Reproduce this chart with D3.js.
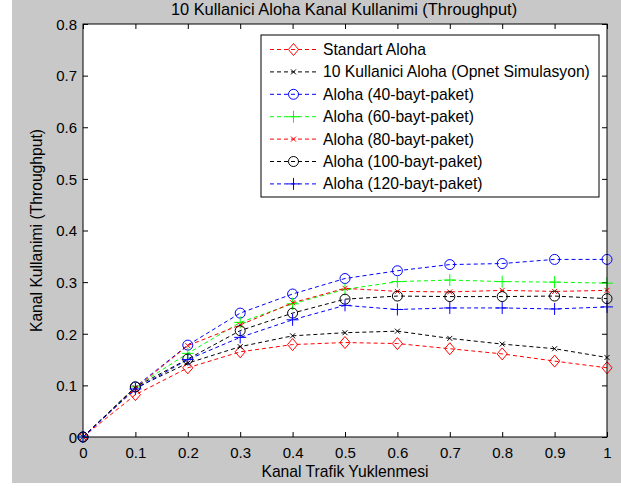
<!DOCTYPE html>
<html><head><meta charset="utf-8">
<script src="https://cdn.jsdelivr.net/npm/d3@7"></script>
<style>
html,body{margin:0;padding:0;background:#fff;}
svg{display:block;}
text{font-family:Arial,"Liberation Sans",sans-serif;fill:#000;}
</style></head>
<body>
<svg id="chart" width="621" height="488"></svg>
<script>
const xValues = [0, 0.1, 0.2, 0.3, 0.4, 0.5, 0.6, 0.7, 0.8, 0.9, 1.0];
const standartAloha = [0, 0.082, 0.134, 0.165, 0.179, 0.183, 0.181, 0.171, 0.161, 0.147, 0.134];
const opnetSim      = [0, 0.095, 0.143, 0.175, 0.196, 0.202, 0.205, 0.191, 0.180, 0.171, 0.154];
const aloha40       = [0, 0.097, 0.178, 0.240, 0.277, 0.307, 0.322, 0.334, 0.336, 0.344, 0.344];
const aloha60       = [0, 0.097, 0.162, 0.222, 0.258, 0.286, 0.301, 0.304, 0.301, 0.300, 0.298];
const aloha80       = [0, 0.095, 0.177, 0.217, 0.260, 0.288, 0.282, 0.281, 0.284, 0.282, 0.284];
const aloha100      = [0, 0.097, 0.151, 0.206, 0.240, 0.267, 0.273, 0.272, 0.272, 0.273, 0.268];
const aloha120      = [0, 0.093, 0.150, 0.193, 0.227, 0.255, 0.247, 0.250, 0.250, 0.248, 0.252];
const seriesNames = ["Standart Aloha", "10 Kullanici Aloha (Opnet Simulasyon)", "Aloha (40-bayt-paket)", "Aloha (60-bayt-paket)", "Aloha (80-bayt-paket)", "Aloha (100-bayt-paket)", "Aloha (120-bayt-paket)"];
const seriesColors = ["#ff0000", "#000000", "#0000ff", "#00ff00", "#ff0000", "#000000", "#0000ff"];
const seriesMarkers = ["diamond", "xsmall", "circle", "plus", "xsmall", "circle", "plus"];
const xTicks = [0, 0.1, 0.2, 0.3, 0.4, 0.5, 0.6, 0.7, 0.8, 0.9, 1];
const yTicks = [0, 0.1, 0.2, 0.3, 0.4, 0.5, 0.6, 0.7, 0.8];
const titleText = "10 Kullanici Aloha Kanal Kullanimi (Throughput)";
const xLabelText = "Kanal Trafik Yuklenmesi";
const yLabelText = "Kanal Kullanimi (Throughput)";

const seriesValues = [standartAloha, opnetSim, aloha40, aloha60, aloha80, aloha100, aloha120];

const svg = d3.select("#chart");
const W = 621, H = 488;
const L = 83, R = 607, T = 24, B = 437;

svg.append("rect").attr("x", 12).attr("y", 0).attr("width", W - 12).attr("height", 483).attr("fill", "#c8c8c8");
svg.append("rect").attr("x", L).attr("y", T).attr("width", R - L).attr("height", B - T).attr("fill", "#fff");

const x = d3.scaleLinear().domain([0, 1]).range([L, R]);
const y = d3.scaleLinear().domain([0, 0.8]).range([B, T]);

const fmt = d => d === 0 ? "0" : (d === 1 ? "1" : d3.format(".1f")(d));
const fs = 15.7;
const tfs = 15;

// axes
const xAxis = svg.append("g").attr("transform", `translate(0,${B})`)
  .call(d3.axisBottom(x).tickValues(xTicks).tickFormat(fmt).tickSizeInner(-5).tickSizeOuter(0).tickPadding(8));
const yAxis = svg.append("g").attr("transform", `translate(${L},0)`)
  .call(d3.axisLeft(y).tickValues(yTicks).tickFormat(fmt).tickSizeInner(-5).tickSizeOuter(0).tickPadding(6));
const xTop = svg.append("g").attr("transform", `translate(0,${T})`)
  .call(d3.axisTop(x).tickValues(xTicks).tickFormat("").tickSizeInner(-5).tickSizeOuter(0));
const yRight = svg.append("g").attr("transform", `translate(${R},0)`)
  .call(d3.axisRight(y).tickValues(yTicks).tickFormat("").tickSizeInner(-5).tickSizeOuter(0));
[xAxis, yAxis, xTop, yRight].forEach(g => {
  g.select(".domain").remove();
  g.selectAll("line").attr("stroke", "#000").attr("stroke-width", 1);
  g.selectAll("text").style("font-size", tfs + "px").style("font-family", "Arial, 'Liberation Sans', sans-serif").attr("fill", "#000");
});
xAxis.selectAll("text").attr("y", 21).attr("dy", "0");
yAxis.selectAll("text").attr("dy", "0.35em");

// lines
const line = d3.line().x((d, i) => x(xValues[i])).y(d => y(d));

function drawMarker(g, type, color, cx, cy) {
  if (type === "diamond") {
    const s = 6;
    g.append("path").attr("d", `M${cx},${cy - s}L${cx + s * 0.85},${cy}L${cx},${cy + s}L${cx - s * 0.85},${cy}Z`)
      .attr("fill", "none").attr("stroke", color).attr("stroke-width", 1);
  } else if (type === "circle") {
    g.append("circle").attr("cx", cx).attr("cy", cy).attr("r", 5)
      .attr("fill", "none").attr("stroke", color).attr("stroke-width", 1);
  } else if (type === "plus") {
    const s = 6;
    g.append("path").attr("d", `M${cx - s},${cy}H${cx + s}M${cx},${cy - s}V${cy + s}`)
      .attr("stroke", color).attr("stroke-width", 1).attr("fill", "none");
  } else if (type === "xsmall") {
    const s = 2.5;
    g.append("path").attr("d", `M${cx - s},${cy - s}L${cx + s},${cy + s}M${cx - s},${cy + s}L${cx + s},${cy - s}`)
      .attr("stroke", color).attr("stroke-width", 1).attr("fill", "none");
  }
}

const plotG = svg.append("g");
seriesValues.forEach((vals, si) => {
  const g = plotG.append("g");
  g.append("path").datum(vals).attr("d", line).attr("fill", "none")
    .attr("stroke", seriesColors[si]).attr("stroke-width", 1).attr("stroke-dasharray", "4,3");
  vals.forEach((v, i) => drawMarker(g, seriesMarkers[si], seriesColors[si], x(xValues[i]), y(v)));
});

// box
svg.append("rect").attr("x", L).attr("y", T).attr("width", R - L).attr("height", B - T)
  .attr("fill", "none").attr("stroke", "#000").attr("stroke-width", 1);

// legend
const lg = svg.append("g");
const lx = 261, ly = 35, lw = 338, lh = 162;
lg.append("rect").attr("x", lx).attr("y", ly).attr("width", lw).attr("height", lh)
  .attr("fill", "#fff").attr("stroke", "#000").attr("stroke-width", 1);
seriesNames.forEach((name, i) => {
  const yy = 49.5 + i * 22.4;
  lg.append("line").attr("x1", 270).attr("x2", 317).attr("y1", yy).attr("y2", yy)
    .attr("stroke", seriesColors[i]).attr("stroke-width", 1).attr("stroke-dasharray", "4,3");
  drawMarker(lg, seriesMarkers[i], seriesColors[i], 293.5, yy);
  lg.append("text").attr("x", 323).attr("y", yy).attr("dy", "0.35em")
    .style("font-size", fs + "px").text(name);
});

// title and labels
svg.append("text").attr("x", 344).attr("y", 15).attr("text-anchor", "middle")
  .style("font-size", "16.4px").text(titleText);
svg.append("text").attr("x", (L + R) / 2).attr("y", 477).attr("text-anchor", "middle")
  .style("font-size", fs + "px").text(xLabelText);
svg.append("text").attr("transform", `translate(42,${(T + B) / 2}) rotate(-90)`).attr("text-anchor", "middle")
  .style("font-size", fs + "px").text(yLabelText);
</script>
</body></html>
